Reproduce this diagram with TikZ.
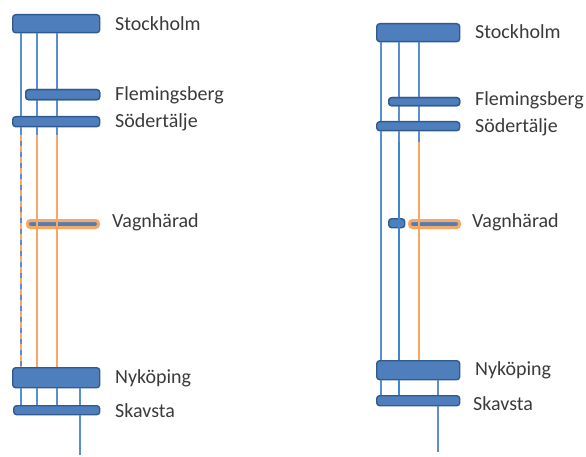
\documentclass[tikz,border=0pt]{standalone}
\usepackage{fontspec}
\setmainfont{Carlito}
\definecolor{barfill}{HTML}{4F7EBD}
\definecolor{bardraw}{HTML}{2F5A8E}
\definecolor{lineblue}{HTML}{5A8ED2}
\definecolor{linedeep}{HTML}{3C86D6}
\definecolor{lineorange}{HTML}{F9A764}
\definecolor{txt}{HTML}{3A3A3A}
\tikzset{
  bar/.style={draw=bardraw, fill=barfill, line width=1.4pt, rounded corners=3pt, inner sep=0pt, anchor=north west},
  obar/.style={draw=lineorange, fill=barfill, line width=3pt, rounded corners=3pt, inner sep=0pt, anchor=north west},
  bl/.style={draw=lineblue, line width=1.6pt},
  bd/.style={draw=linedeep, line width=1.6pt},
  ol/.style={draw=lineorange, line width=1.6pt},
  od/.style={draw=lineorange, line width=1.6pt, dash pattern=on 6pt off 5pt},
  lbl/.style={anchor=west, text=txt, font=\fontsize{20}{24}\selectfont, inner sep=0pt}
}
\begin{document}
\begin{tikzpicture}[x=1pt,y=-1pt]
\useasboundingbox (0,0) rectangle (586,457);
% ---------- left diagram ----------
\coordinate (a1) at (21,0); \coordinate (a2) at (37,0); \coordinate (a3) at (57,0); \coordinate (a4) at (80,0);
\coordinate (aend) at (80,455);
\node[bar, minimum width=87pt, minimum height=18pt] (Lsth) at (12,14) {};
\node[bar, minimum width=74pt, minimum height=10pt] (Lfle) at (25,89) {};
\node[bar, minimum width=87pt, minimum height=10pt] (Lsod) at (12,116) {};
\node[obar, minimum width=71pt, minimum height=7pt] (Lvag) at (26,219) {};
\node[bar, minimum width=87pt, minimum height=20pt] (Lnyk) at (12,367) {};
\node[bar, minimum width=86pt, minimum height=9pt] (Lska) at (13,405) {};
\coordinate (Lmid) at (0,135);
\begin{scope}[on background layer/.try]
\end{scope}
% lines drawn then bars redrawn on top
\foreach \c in {a1,a2,a3} {
  \draw[bl] (\c |- Lsth.south) -- (\c |- Lsod.north);
  \draw[bl] (\c |- Lsod.south) -- (\c |- Lmid);
  \draw[bl] (\c |- Lnyk.south) -- (\c |- Lska.north);
}
\draw[bl] (a1 |- Lmid) -- (a1 |- Lnyk.north);
\draw[od] (a1 |- Lmid) -- (a1 |- Lnyk.north);
\draw[ol] (a2 |- Lmid) -- (a2 |- Lnyk.north);
\draw[ol] (a3 |- Lmid) -- (a3 |- Lnyk.north);
\draw[bl] (a4 |- Lnyk.south) -- (a4 |- Lska.north);
\draw[bl] (Lska.south -| a4) -- (aend);
\node[bar, minimum width=74pt, minimum height=10pt] at (25,89) {};
\draw[ol] (a2 |- Lvag.north) -- (a2 |- Lvag.south);
\draw[ol] (a3 |- Lvag.north) -- (a3 |- Lvag.south);
\node[lbl] at (115,24) {Stockholm};
\node[lbl] at (115,95) {Flemingsberg};
\node[lbl] at (115,122) {Södertälje};
\node[lbl] at (112,222) {Vagnhärad};
\node[lbl] at (115,378) {Nyköping};
\node[lbl] at (115,411) {Skavsta};
% ---------- right diagram ----------
\coordinate (b1) at (381,0); \coordinate (b2) at (399,0); \coordinate (b3) at (419,0); \coordinate (b4) at (438,0);
\coordinate (bend) at (438,452);
\coordinate (Rmid) at (0,142);
\node[bar, minimum width=83pt, minimum height=18pt] (Rsth) at (376,23) {};
\node[bar, minimum width=71pt, minimum height=8pt] (Rfle) at (388,97) {};
\node[bar, minimum width=83pt, minimum height=9pt] (Rsod) at (376,121) {};
\node[bar, minimum width=16pt, minimum height=9pt] (Rvs) at (388,218) {};
\node[obar, minimum width=50pt, minimum height=7pt] (Rvag) at (408,219) {};
\node[bar, minimum width=83pt, minimum height=19pt] (Rnyk) at (376,360) {};
\node[bar, minimum width=83pt, minimum height=10pt] (Rska) at (376,395) {};
\foreach \c in {b1,b2,b3} {
  \draw[bl] (\c |- Rsth.south) -- (\c |- Rsod.north);
}
\draw[bl] (b1 |- Rsod.south) -- (b1 |- Rnyk.north);
\draw[bl] (b2 |- Rsod.south) -- (b2 |- Rmid);
\draw[bd] (b2 |- Rmid) -- (b2 |- Rnyk.north);
\draw[bl] (b3 |- Rsod.south) -- (b3 |- Rmid);
\draw[ol] (b3 |- Rmid) -- (b3 |- Rnyk.north);
\draw[bl] (b1 |- Rnyk.south) -- (b1 |- Rska.north);
\draw[bd] (b2 |- Rnyk.south) -- (b2 |- Rska.north);
\draw[bl] (b4 |- Rnyk.south) -- (b4 |- Rska.north);
\draw[bl] (Rska.south -| b4) -- (bend);
\node[bar, minimum width=71pt, minimum height=8pt] at (388,97) {};
\node[lbl] at (475,32) {Stockholm};
\node[lbl] at (475,100) {Flemingsberg};
\node[lbl] at (475,127) {Södertälje};
\node[lbl] at (472,222) {Vagnhärad};
\node[lbl] at (475,370) {Nyköping};
\node[lbl] at (473,404) {Skavsta};
\end{tikzpicture}
\end{document}
